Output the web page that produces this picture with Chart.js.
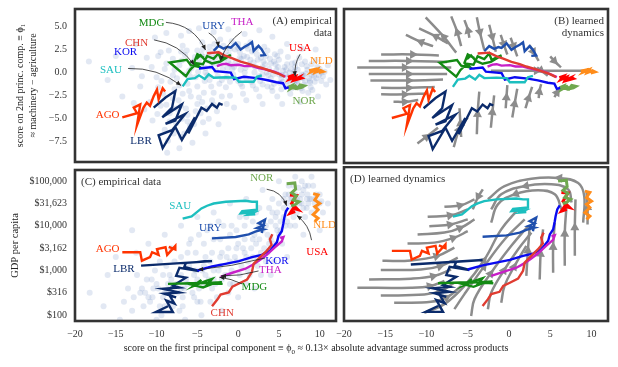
<!DOCTYPE html>
<html>
<head>
<meta charset="utf-8">
<script src="https://cdn.jsdelivr.net/npm/chart.js@4.4.1/dist/chart.umd.min.js"></script>
<style>
  html, body { margin: 0; padding: 0; background: #fff; }
  body { width: 618px; height: 367px; position: relative; overflow: hidden; font-family: 'Liberation Serif', serif; }
  .panel { position: absolute; }
  #xtitle { position: absolute; left: 14px; width: 604px; top: 342px; text-align: center; font-size: 10px; color: #222; }
  #xtitle sub { font-size: 7px; }
</style>
</head>
<body>
<div class="panel" style="left:0;top:0"><canvas id="chartA" width="340" height="166"></canvas></div>
<div class="panel" style="left:330px;top:0"><canvas id="chartB" width="288" height="166"></canvas></div>
<div class="panel" style="left:0;top:166px"><canvas id="chartC" width="340" height="180"></canvas></div>
<div class="panel" style="left:330px;top:166px"><canvas id="chartD" width="288" height="180"></canvas></div>
<div id="xtitle">score on the first principal component ≡ ϕ<sub>0</sub> ≈ 0.13× absolute advantage summed across products</div>
<script>
// axis ticks
const xTicks = [-20, -15, -10, -5, 0, 5, 10];
const pcTicks = [5, 2.5, 0, -2.5, -5, -7.5];
const gdpTicks = [2, 2.5, 3, 3.5, 4, 4.5, 5]; // log10 of GDP per capita
const gdpTickLabels = ['$100', '$316', '$1,000', '$3,162', '$10,000', '$31,623', '$100,000'];

// country trajectories: [phi0, phi1]
const agoPc = [[-14.2,-4.85],[-12.4,-4.4],[-12.8,-3.8],[-12.0,-3.45],[-12.4,-5.7],[-11.6,-3.8],[-11.2,-3.25],[-10.8,-3.6],[-10.35,-2.55],[-9.95,-1.85],[-9.75,-2.9],[-9.25,-1.7],[-8.95,-2.05]];
const lbrPc = [[-10.35,-3.8],[-8.9,-2.7],[-7.7,-2.0],[-8.1,-3.8],[-9.3,-4.85],[-6.9,-3.45],[-7.7,-5.2],[-8.9,-5.55],[-6.5,-4.5],[-8.1,-6.25],[-9.75,-6.8],[-9.25,-8.2],[-7.7,-5.9],[-6.9,-7.3],[-5.3,-4.85],[-6.1,-6.6],[-4.5,-3.8],[-3.85,-4.15],[-3.2,-3.4],[-2.6,-3.8],[-2.3,-3.35],[-1.9,-3.5]];
const mdgPc = [[-4.2,1.6],[-5.0,2.0],[-5.4,1.1],[-4.7,0.6],[-5.8,0.8],[-6.3,1.4],[-8.4,1.1],[-6.4,-0.4],[-5.9,0.3],[-5.1,1.0],[-4.3,0.9],[-3.8,1.8],[-3.0,1.5],[-2.4,2.1],[-2.1,1.4],[-1.5,1.7],[-0.9,1.9],[-2.2,1.2],[-3.2,1.0],[-4.0,1.3],[-4.6,1.9],[-5.1,1.5]];
const chnPc = [[-3.8,2.1],[-2.4,2.2],[-1.5,1.8],[-0.7,1.55],[0.3,1.2],[1.3,0.95],[2.1,0.7],[2.9,0.5],[3.9,0.2],[4.9,-0.1],[5.7,-0.45]];
const sauPc = [[-6.8,-1.5],[-6.2,-0.7],[-5.3,-0.6],[-4.8,-0.3],[-4.1,-0.7],[-3.6,-0.2],[-3.0,-0.55],[-1.5,-0.5],[-0.3,-0.55],[0.1,-1.0],[1.9,-1.0],[2.3,-0.45],[2.9,-0.3]];
const korPc = [[-4.8,0.45],[-3.2,0.6],[-2.8,0.15],[-0.9,0.0],[-0.5,-0.7],[0.7,-0.45],[2.3,-0.6],[3.5,-0.8],[4.7,-1.05],[5.5,-1.15],[5.8,-1.7],[6.2,-1.6]];
const uryPc = [[-3.0,2.35],[-2.4,2.9],[-1.8,2.6],[-1.3,2.8],[-0.9,2.7],[-0.3,3.2],[0.3,2.5],[0.8,2.8],[1.3,3.05],[1.7,3.3],[1.9,2.35],[2.5,2.9],[2.9,2.5],[3.1,2.2],[3.3,1.9],[2.7,1.85]];
const thaPc = [[-2.6,0.7],[-2.0,0.9],[-1.5,0.95],[-0.9,0.8],[0.1,0.85],[0.8,0.7],[1.7,0.7],[2.5,0.5],[3.3,0.35],[4.0,0.2],[4.5,0.07],[5.2,-0.2],[5.8,-0.45]];
const usaPc = [[6.1,-0.5],[6.6,-0.35],[6.3,-0.7],[7.0,-0.45],[6.8,-0.8],[7.4,-0.55],[7.2,-0.75],[7.8,-0.6],[7.5,-0.45]];
const nldPc = [[8.7,0.2],[9.2,0.3],[9.0,0.1],[9.7,0.35],[9.5,0.05],[10.1,0.25],[10.4,0.12],[9.9,0.0]];
const norPc = [[6.1,-1.6],[6.6,-1.4],[6.4,-1.75],[7.0,-1.45],[7.3,-1.7],[7.6,-1.35],[8.1,-1.45],[7.8,-1.6],[7.1,-1.75],[6.5,-1.55]];

// country trajectories: [phi0, log10 GDP per capita]
const agoGdp = [[-14.2,3.41],[-12.0,3.41],[-11.8,3.22],[-10.8,3.30],[-10.55,3.41],[-9.75,3.35],[-9.95,3.48],[-8.9,3.52],[-8.7,3.35],[-7.7,3.55],[-7.7,3.47],[-8.5,3.53]];
const lbrGdp = [[-11.9,3.11],[-3.2,3.21],[-6.4,3.17],[-6.6,3.08],[-4.8,2.99],[-7.2,3.06],[-7.6,2.88],[-6.4,2.84],[-8.0,2.66],[-7.2,2.62],[-9.25,2.59],[-7.2,2.51],[-9.05,2.48],[-7.6,2.40],[-8.4,2.44],[-7.8,2.26],[-8.8,2.33],[-8.0,2.07],[-10.1,2.07],[-8.6,2.2]];
const mdgGdp = [[-8.6,2.70],[-5.0,2.72],[-4.5,2.79],[-5.5,2.65],[-4.0,2.76],[-3.2,2.81],[-3.8,2.68],[-2.0,2.74],[-6.0,2.70],[-4.3,2.62],[-3.0,2.71],[-1.9,2.70]];
const chnGdp = [[-3.2,2.2],[-2.55,2.35],[-2.15,2.46],[-1.15,2.51],[-0.7,2.64],[0.1,2.71],[1.1,2.8],[1.7,2.97],[1.9,3.15],[2.7,3.3],[3.5,3.44],[4.1,3.57],[3.9,3.7],[4.2,3.81]];
const sauGdp = [[-6.8,4.16],[-5.7,4.21],[-4.5,4.39],[-3.8,4.45],[-3.0,4.50],[-1.5,4.54],[0.9,4.56],[1.7,4.54],[2.3,4.54],[2.3,4.36],[0.5,4.33],[0.3,4.28],[1.9,4.30],[1.3,4.25],[2.1,4.26]];
const korGdp = [[-5.0,3.0],[-3.2,3.09],[-1.55,3.15],[0.1,3.21],[1.7,3.30],[2.9,3.35],[3.9,3.44],[4.75,3.63],[4.95,3.77],[5.35,3.88],[5.55,4.06],[5.65,4.17],[5.85,4.32],[6.15,4.41]];
const uryGdp = [[-3.2,3.72],[-0.3,3.75],[1.3,3.81],[2.1,3.87],[3.1,3.92],[2.3,3.95],[3.1,4.01],[2.5,4.06],[3.3,4.14],[2.9,3.84]];
const thaGdp = [[-2.15,2.86],[-0.7,2.95],[0.9,3.04],[1.9,3.14],[2.7,3.24],[3.5,3.35],[4.5,3.52],[5.35,3.65],[5.55,3.75],[5.15,3.73]];
const usaGdp = [[6.35,4.69],[7.15,4.68],[6.55,4.5],[7.35,4.36],[6.75,4.39],[6.35,4.28],[7.0,4.32]];
const nldGdp = [[9.2,4.72],[9.8,4.69],[9.4,4.58],[10.0,4.5],[9.4,4.43],[9.8,4.36],[9.2,4.25],[9.8,4.17],[9.4,4.10]];
const norGdp = [[5.95,4.94],[6.95,4.96],[7.05,4.82],[6.55,4.74],[7.15,4.67],[6.75,4.58],[7.45,4.54],[6.95,4.47],[6.5,4.45]];

// all country-years (background cloud)
const cloudPc = [[-8,1.5],[-7.2,0.8],[-6.5,1.9],[-6,0.2],[-5.5,1.2],[-5,2.4],[-4.6,0.6],[-4.2,1.7],[-3.8,-0.3],[-3.5,2.8],[-3.1,1.1],[-2.7,0.2],[-2.4,2.1],[-2,-0.8],[-1.7,1.5],[-1.3,0.5],[-1,2.6],[-0.6,-0.2],[-0.3,1.2],[0,3.1],[0.3,0.3],[0.7,1.8],[1,-0.6],[1.3,0.9],[1.7,2.3],[2,0],[2.4,1.4],[2.7,-0.9],[3,0.6],[3.4,1.8],[3.7,-0.3],[4,1],[4.4,-1.2],[4.7,0.3],[5,1.4],[5.3,-0.6],[5.7,0.6],[6,-1.4],[6.3,0],[6.6,1],[7,-0.8],[7.3,0.3],[7.7,-1.7],[8,-0.3],[8.4,0.7],[8.8,-1.1],[9.2,0],[9.6,-0.6],[10,0.4],[10.4,-0.4],
  [-9,0.4],[-8.5,2.4],[-7.5,-0.6],[-6.8,2.9],[-6.2,-1.2],[-5.2,-0.5],[-4.4,3.3],[-3.3,-1.5],[-2.2,3.6],[-1.5,-1.6],[-0.8,3.4],[0.5,-1.5],[1.5,3.3],[2.2,-1.8],[3.2,2.8],[4.2,-2],[5.2,2.3],[6.4,-2.3],[7.5,1.6],[8.6,-2.2],[9.5,1.3],[10.8,-1.3],[-4,0],[-1,0.9],[2.8,0.4],[5.8,-0.2],[7.8,0.9],[1.1,1.7],[-2.8,1.6],[-5.7,0.5],[3.6,-1.5],[6.8,-0.3],[0.2,2.2],[-3.6,2.2],[4.5,2.0],
  [5.5,-1.0],[6.5,-0.6],[7.2,-1.2],[8.2,-0.9],[9,-0.3],[9.8,0.2],[7,0.6],[6,0.9],[8.5,0.3],[5,-0.2],[4,-0.6],[3,-0.2],[10.2,-0.9],[7.8,-0.2],[6.2,-0.9],[8.9,-1.6],
  [-7.8,0.3],[-6.9,1.3],[-6.3,2.4],[-5.9,-0.4],[-5.3,1.7],[-4.9,0.1],[-4.5,2.0],[-4.1,-0.9],[-3.7,1.3],[-3.3,0.6],[-2.9,2.4],[-2.5,-0.4],[-2.1,1.0],[-1.8,2.9],[-1.4,-0.5],[-1.1,1.9],[-0.7,0.4],[-0.4,2.5],[0,-0.9],[0.4,1.5],[0.8,0.0],[1.2,2.6],[1.6,-1.0],[1.9,1.1],[2.3,2.0],[2.6,-0.4],[3.1,1.2],[3.5,0.0],[3.9,1.5],[4.3,-0.2],[4.6,0.9],[5.1,-1.1],[5.5,0.2],[6.1,-0.5],[6.5,0.4],[6.9,-1.3],[7.4,-0.5],[8.1,-1.3],[8.7,-0.6],[9.4,-1.0],[9.9,-0.3],[10.6,0.1],
  [-5.6,0.9],[-4.8,1.4],[-4.0,0.5],[-3.2,1.9],[-2.6,0.9],[-1.9,0.4],[-1.2,1.3],[-0.5,0.6],[0.2,1.6],[0.9,0.5],[1.5,1.4],[2.1,0.6],[2.8,1.6],[3.3,0.9],[3.8,0.4],[4.4,1.2],[4.9,0.6],[5.4,-0.3],[5.9,0.3],[6.4,-0.8],[6.9,0.1],[7.3,-0.9],[7.9,-0.6],[8.3,-0.1],[8.8,-0.9],[9.3,-0.4],[9.7,0.6],[10.2,0.0],
  [-3.5,-0.8],[-2.3,-1.2],[-1.0,-1.0],[0.3,-1.2],[1.8,-1.4],[3.0,-1.3],[4.1,-1.6],[5.3,-1.8],[6.6,-1.7],[7.9,-2.0],[9.1,-1.9],[-4.3,2.6],[-2.9,3.1],[-1.5,2.3],[0,2.7],[1.0,2.9],[2.2,2.6],[3.6,2.4],[4.8,1.8],[6.1,1.7],[7.0,1.1],[8.2,1.2],[9.0,0.9],[-6.5,-0.2],[-7.2,-1.4],[-8.0,-0.3],[-7.0,2.3],[-8.8,1.0],[-9.8,1.8],[-5.0,-1.5],[-6.0,-2.0],[-3.0,-3.5],[-4.8,-2.7],[-7.6,-3.9],[-8.4,-5.3],[-6.2,-5.3],[-4.3,-5.4],[-7.0,-7.0],
  [-8.3,-1.0],[-9.4,-0.9],[-10.6,0.6],[-11.8,-0.4],[-7.3,-3.0],[-6.4,-3.9],[-5.2,-4.2],[-4.4,-3.2],[-3.8,-3.9],[-9.9,-4.5],[-8.8,-3.5],[-7.9,-6.6],[-6.9,-5.0],[-5.9,-5.8],[-3.0,-2.2],[-1.0,-2.5],[0.6,-2.3],[2.6,-2.6],[4.8,-2.6],
  [-18.3,1.2],[-16,-0.8],[-15,1.8],[-14.2,-2.6],[-13,0.5],[-12.5,3.1],[-12,-1.5],[-11.2,1.6],[-10.8,-3.2],[-10.2,3.8],[-10,-0.5],[-9.5,2.2],[-9.2,-2.3],[-8.8,4.3],[-7.8,-1.8],[-7,4.0],[-6,4.5],[-4.8,4.8],[-3,4.4],[-1.2,4.7],[0.8,4.2],[2.6,4.6],[4.2,3.9],[6,3.1],[7.8,2.6],[9.5,2.5],[11,0.8],[11.3,-0.8],[9.8,-2.6],[7.6,-3.2],[5.4,-3.4],[3,-3.4],[1,-3],[-0.5,-3.8],
  [-11.5,-4],[-10.5,-5.2],[-9.5,-3.6],[-9,-6.2],[-8.4,-4.4],[-8,-2.8],[-7.6,-5.5],[-7,-3.6],[-6.6,-6.6],[-6.2,-4.6],[-5.8,-2.6],[-5.4,-5.6],[-5,-3.4],[-4.6,-4.4],[-4.2,-2.2],[-3.6,-5],[-3.2,-3],[-2.6,-4.2],[-2,-2.6],[-1.4,-3.4],[-8.6,-7.4],[-7.2,-8.2],[-5.6,-7.6],[-4,-6.6],[-9.8,-1.6],[-12.8,-3.3],[-2.4,-5.6],[-6.8,-2.3],[-8.7,-8.7]];

const cloudGdp = [[-14,2.3],[-13.5,2.6],[-13,2.1],[-12,2.5],[-11.6,2.2],[-11.2,2.8],[-12.4,2.9],[-10.5,2.4],[-10,2.7],[-9.6,2.2],[-10.2,3.0],[-9.2,2.9],[-8.8,2.5],[-8.4,2.9],[-8,2.2],[-7.6,2.7],[-7.8,3.2],[-8.2,3.5],
  [-6.8,2.4],[-6.4,2.8],[-6,3.1],[-5.6,2.5],[-6.2,3.4],[-5.8,3.7],[-5.4,2.9],[-4.8,2.6],[-4.4,3.0],[-4,3.3],[-3.6,2.8],[-4.2,3.6],[-3.8,3.9],[-3.4,3.2],[-4.6,2.3],
  [-2.8,2.7],[-2.4,3.0],[-2,3.4],[-1.6,2.9],[-2.2,3.7],[-1.8,4.0],[-1.4,3.3],[-2.6,2.4],[-0.8,3.0],[-0.4,3.3],[0,3.6],[0.4,3.1],[-0.2,3.9],[0.2,4.2],[0.6,3.5],[-0.6,2.7],
  [1.2,3.2],[1.6,3.5],[2,3.8],[2.4,3.3],[1.8,4.1],[2.2,4.3],[2.6,3.7],[1.4,2.9],[3.2,3.5],[3.6,3.8],[4,4.1],[4.4,3.6],[3.8,4.4],[4.2,4.6],[4.6,4.0],[3.4,3.2],
  [5.2,3.9],[5.6,4.2],[6,4.5],[6.4,4.0],[5.8,4.7],[6.2,4.9],[6.6,4.4],[5.4,3.6],[7.2,4.3],[7.6,4.6],[8,4.8],[8.4,4.4],[7.8,5.0],[8.2,4.2],[8.8,4.6],[9.2,4.9],[9.6,4.4],[10,4.7],[10.4,4.3],[7,4.0],
  [7.5,4.5],[8.5,4.7],[9,4.3],[7,4.7],[8,4.4],[9.5,4.6],[6.8,4.2],[8.6,4.9],[7.4,4.85],[10.2,4.55],[6.4,4.6],[5.6,4.4],[4.8,4.3],[5,3.8],[3.8,3.6],[2.8,3.4],[1,3.3],[-1,3.2],[-3,3.0],[-5,2.8],[-7,2.6],[-9,2.5],[-11,2.4],
  [-12.8,2.4],[-11.8,2.6],[-10.8,2.3],[-9.8,2.6],[-8.6,2.7],[-7.4,2.5],[-6.6,2.6],[-5.2,2.7],[-4.0,2.9],[-3.2,2.6],[-2.2,3.1],[-1.2,2.9],[-0.2,3.2],[0.8,3.4],[1.8,3.3],[2.2,3.6],[3.0,3.9],[3.0,3.3],[4.0,3.7],[4.6,4.2],[5.2,4.1],[5.8,4.0],[6.6,4.6],[7.2,4.6],[7.8,4.5],[8.4,4.6],[9.0,4.6],[9.6,4.7],[8.2,4.9],[6.8,4.9],[-6.0,3.6],[-4.8,3.8],[-3.4,4.0],[-2.4,4.1],[-0.8,4.0],[0.8,4.0],[-8.8,3.1],[-10.6,2.8],[-5.0,2.3],[-3.4,2.3],[-1.2,2.5],[1.0,2.7],[2.8,2.9],[4.4,3.2],[-7.2,2.1],[-9.4,2.0],
  [-11.4,2.5],[-10.4,2.6],[-9.2,2.4],[-8.2,2.8],[-7.0,2.9],[-6.2,2.7],[-5.2,3.0],[-4.2,3.1],[-3.2,3.4],[-2.2,3.3],[-1.2,3.5],[-0.2,3.5],[0.8,3.7],[1.8,3.7],[2.6,4.0],[3.4,4.0],[4.2,4.3],[5.0,4.5],[5.6,4.6],[6.2,4.7],[7.0,4.4],[7.8,4.7],[8.6,4.5],[9.4,4.5],[10.0,4.5],[6.0,4.1],[4.8,3.9],[3.6,3.4],[2.4,3.1],[1.2,3.0],[0.2,2.9],[-1.0,2.7],[-2.0,2.8],[-3.0,2.8],[-4.2,2.7],[-5.4,2.4],[-6.8,2.2],[-8.4,2.3],[-9.0,2.2],[-5.2,3.4],[-3.0,3.7],[-1.0,3.8],[1.0,4.2],[2.6,4.4],[-7.0,3.3],[-9.6,3.2],
  [-18.2,2.5],[-16,2.9],[-15,3.3],[-14.5,1.9],[-12.5,3.4],[-11,3.6],[-10,1.9],[-9,3.8],[-7.5,1.8],[-7,4.0],[-6.5,1.9],[-5,4.2],[-3,4.3],[-1,4.5],[1,4.6],[3,4.8],[5,5.0],[7,5.1],[9,5.1],[-4.5,2.0],[-2,2.1],[0,2.4],[2,2.6],[4,2.9],[6,3.3],[8,3.8],[10,3.9],[11,4.5],[-16.5,2.2],[-13,3.9]];

// learned dynamics streamlines (direction = point order)
const streamsPc = [
  [[-15.5,2.0],[-11.5,2.0],[-8.5,1.9]],
  [[-17.0,1.3],[-12.0,1.3],[-7.5,1.2]],
  [[-18.4,0.6],[-12.5,0.6],[-7.0,0.6]],
  [[-17.0,-0.1],[-12.0,-0.1],[-7.5,-0.1]],
  [[-16.8,-0.8],[-12.0,-0.8],[-8.0,-0.7]],
  [[-15.5,-1.6],[-12.0,-1.6],[-9.0,-1.5]],
  [[-15.5,-2.3],[-12.5,-2.3],[-10.0,-2.2]],
  [[-14.0,-3.1],[-12.5,-3.1],[-11.0,-2.9]],
  [[-9.2,2.9],[-10.8,3.4],[-12.5,4.1]],
  [[-7.4,3.2],[-9.0,4.0],[-10.9,4.8]],
  [[-6.4,2.2],[-8.0,4.0],[-10.1,6.0]],
  [[-5.8,2.9],[-6.3,4.5],[-7.0,6.1]],
  [[-4.8,3.8],[-5.0,4.7],[-5.4,5.7]],
  [[-3.9,6.0],[-3.5,4.3],[-3.0,2.5]],
  [[-2.4,5.2],[-2.0,3.8],[-1.6,2.3]],
  [[-1.0,4.1],[-0.6,3.0],[-0.2,2.0]],
  [[0.2,3.8],[0.6,2.8],[1.0,1.8]],
  [[2.5,3.0],[3.0,2.2],[3.6,1.3]],
  [[5.0,1.8],[5.6,1.2],[6.3,0.6]],
  [[3.4,0.6],[4.0,0.2],[4.7,-0.3]],
  [[-3.9,-6.6],[-3.8,-4.3],[-3.6,-2.0]],
  [[-2.2,-5.9],[-2.0,-4.1],[-1.8,-2.4]],
  [[-0.4,-3.8],[-0.3,-2.5],[-0.2,-1.3]],
  [[0.4,-4.8],[0.7,-3.2],[1.0,-1.7]],
  [[2.0,-3.8],[2.4,-2.6],[2.8,-1.5]],
  [[3.6,-2.7],[3.7,-1.9],[3.9,-1.2]],
  [[5.5,-2.6],[5.9,-2.0],[6.3,-1.5]],
  [[-11.1,-7.6],[-9.9,-6.8],[-8.6,-5.9]],
  [[-5.8,-6.9],[-5.9,-5.3],[-6.0,-3.8]],
  [[-6.7,-8.0],[-6.0,-6.0],[-5.0,-4.8]],
  [[-2.2,0.25],[3.5,0.25],[9.1,0.25]]
];
const streamsGdp = [
  [[-18.38,2.60],[-11.89,2.60],[-9.46,2.64],[-7.83,2.75]],
  [[-15.54,2.43],[-10.27,2.45],[-8.24,2.53],[-6.62,2.71]],
  [[-13.92,2.27],[-9.46,2.29],[-7.43,2.40],[-5.81,2.64]],
  [[-16.96,2.78],[-11.89,2.80],[-9.05,2.86],[-7.02,3.00]],
  [[-15.54,2.99],[-10.67,3.00],[-8.24,3.08],[-6.21,3.26]],
  [[-15.34,3.19],[-11.89,3.20],[-8.65,3.30],[-6.62,3.48]],
  [[-12.30,3.57],[-9.05,3.59],[-6.62,3.70],[-5.0,3.84]],
  [[-11.08,3.77],[-7.83,3.81],[-5.81,3.92],[-4.18,4.10]],
  [[-9.66,3.95],[-7.02,3.99],[-5.0,4.10]],
  [[-9.86,4.16],[-7.02,4.19],[-5.0,4.32]],
  [[-7.83,4.38],[-5.81,4.41],[-4.18,4.54]],
  [[-10.27,2.05],[-7.83,2.24],[-5.40,2.64],[-2.97,3.22],[-0.94,3.88],[1.09,4.32]],
  [[-6.62,2.13],[-5.40,2.46],[-2.97,3.08],[-0.54,3.66],[1.90,4.10]],
  [[-4.59,1.98],[-4.18,2.35],[-2.16,2.93],[0.28,3.52],[2.30,3.95]],
  [[-2.56,2.13],[-2.16,2.49],[-0.54,3.0],[1.09,3.44],[2.71,3.81]],
  [[-0.94,2.27],[-0.54,2.64],[0.68,3.08],[2.10,3.52]],
  [[2.10,2.86],[2.30,3.44],[2.51,3.95]],
  [[3.72,2.78],[3.84,3.37],[4.13,3.88]],
  [[5.35,2.93],[5.35,3.52],[5.55,4.03]],
  [[6.76,3.08],[6.76,3.81],[6.97,4.39]],
  [[7.98,3.30],[7.98,3.95],[8.06,4.54]],
  [[9.52,3.99],[9.52,4.39],[9.40,4.69]],
  [[8.99,4.03],[9.12,4.61],[8.39,4.90],[5.95,5.01],[2.71,4.99],[-0.54,4.83],[-2.56,4.54]],
  [[7.58,4.47],[7.17,4.76],[5.14,4.87],[1.90,4.83],[-0.94,4.65],[-2.16,4.32]],
  [[6.36,4.32],[5.55,4.65],[3.52,4.74],[0.68,4.65],[-1.35,4.43],[-2.16,4.03]],
  [[-3.17,4.76],[-3.78,4.58],[-4.39,4.32]]
];

// text labels [name, x, y] and annotation arrows [x0, y0, x1, y1, bend]
const labelsPc = [['MDG',-10.6,5.4],['CHN',-12.45,3.15],['KOR',-13.8,2.2],['SAU',-15.6,0.25],['AGO',-16.0,-4.65],['LBR',-11.9,-7.45],['URY',-3.0,5.0],['THA',0.5,5.5],['USA',7.6,2.7],['NLD',10.2,1.2],['NOR',8.1,-3.1]];
const labelsGdp = [['NOR',2.9,5.07],['SAU',-7.1,4.45],['URY',-3.4,3.96],['AGO',-16.0,3.49],['LBR',-14.0,3.03],['NLD',10.6,4.01],['USA',9.7,3.42],['KOR',4.75,3.22],['THA',3.95,3.02],['MDG',2.0,2.63],['CHN',-1.95,2.05]];
const arrowsPc = [[-8.85,5.45,-4.0,2.45,-14],[-10.3,3.55,-5.4,0.85,-10],[-13.5,0.45,-7.0,-1.4,-10],[-3.6,4.3,-2.4,2.8,-4],[0.45,4.45,-2.15,1.3,6],[7.6,2.0,7.0,-0.4,4]];
const arrowsGdp = [[3.5,4.82,5.95,4.45,-8],[9.0,3.68,7.2,4.23,6],[3.3,3.28,-4.9,3.02,-3],[2.5,2.99,-2.1,2.88,-3],[0.5,2.7,-2.3,2.85,2]];

const countryColors = {AGO:'#ff3300', LBR:'#0b2b6b', MDG:'#138a13', CHN:'#e03c31', SAU:'#1cbfbf', KOR:'#0a0af0', URY:'#1f4fad', THA:'#c71fc7', USA:'#ff0000', NLD:'#ff8c1a', NOR:'#6fa84f'};
const thickCodes = ['USA', 'NLD', 'NOR'];
const trajPc = [['SAU',sauPc],['CHN',chnPc],['URY',uryPc],['THA',thaPc],['KOR',korPc],['MDG',mdgPc],['AGO',agoPc],['LBR',lbrPc],['NOR',norPc],['USA',usaPc],['NLD',nldPc]];
const trajGdp = [['SAU',sauGdp],['URY',uryGdp],['CHN',chnGdp],['THA',thaGdp],['KOR',korGdp],['MDG',mdgGdp],['AGO',agoGdp],['LBR',lbrGdp],['NOR',norGdp],['USA',usaGdp],['NLD',nldGdp]];

const serif = '"Liberation Serif", "Times New Roman", serif';
const toXY = arr => arr.map(p => ({x: p[0], y: p[1]}));
const minus = v => String(v).replace('-', '\u2212');

function cloudSet(points) {
    return {data: toXY(points), showLine: false, pointRadius: 3, pointBorderWidth: 0,
            pointBackgroundColor: 'rgba(72,112,178,0.16)', order: 3};
}
function streamSet(line) {
    return {data: toXY(line), showLine: true, borderColor: '#8c8c8c', borderWidth: 2.5,
            pointRadius: 0, tension: 0.4, order: 2, stream: true};
}
function trajSet(code, line) {
    return {data: toXY(line), showLine: true, borderColor: countryColors[code],
            borderWidth: thickCodes.includes(code) ? 3 : 2.4, pointRadius: 0, tension: 0, order: 1};
}

function drawHead(ctx, x, y, ang, len, half, color) {
    ctx.save();
    ctx.translate(x, y);
    ctx.rotate(ang);
    ctx.beginPath();
    ctx.moveTo(0, 0);
    ctx.lineTo(-len, half);
    ctx.lineTo(-len, -half);
    ctx.closePath();
    ctx.fillStyle = color;
    ctx.fill();
    ctx.restore();
}

// streamline arrowheads, labels, annotation arrows, headings and frame
const decorPlugin = {
    id: 'decor',
    afterDatasetDraw(chart, args) {
        const ds = chart.data.datasets[args.index];
        if (!ds.stream) return;
        const pts = args.meta.data;
        const i = Math.floor(pts.length / 2);
        const a = pts[Math.max(i - 1, 0)], b = pts[Math.min(i + 1, pts.length - 1)];
        const ang = Math.atan2(b.y - a.y, b.x - a.x);
        const ctx = chart.ctx, area = chart.chartArea;
        ctx.save();
        ctx.beginPath();
        ctx.rect(area.left, area.top, area.right - area.left, area.bottom - area.top);
        ctx.clip();
        drawHead(ctx, pts[i].x + Math.cos(ang) * 4, pts[i].y + Math.sin(ang) * 4, ang, 8, 4.5, '#8c8c8c');
        ctx.restore();
    },
    afterDraw(chart, args, opts) {
        const ctx = chart.ctx, area = chart.chartArea;
        const sx = chart.scales.x, sy = chart.scales.y;
        ctx.save();
        // annotation arrows
        ctx.strokeStyle = '#222';
        ctx.lineWidth = 0.8;
        (opts.arrows || []).forEach(a => {
            const x0 = sx.getPixelForValue(a[0]), y0 = sy.getPixelForValue(a[1]);
            const x1 = sx.getPixelForValue(a[2]), y1 = sy.getPixelForValue(a[3]);
            const dx = x1 - x0, dy = y1 - y0, len = Math.hypot(dx, dy);
            const cx = (x0 + x1) / 2 - dy / len * a[4], cy = (y0 + y1) / 2 + dx / len * a[4];
            ctx.beginPath();
            ctx.moveTo(x0, y0);
            ctx.quadraticCurveTo(cx, cy, x1, y1);
            ctx.stroke();
            drawHead(ctx, x1, y1, Math.atan2(y1 - cy, x1 - cx), 5, 2.2, '#222');
        });
        // country labels
        ctx.font = '11px ' + serif;
        ctx.textAlign = 'center';
        ctx.textBaseline = 'middle';
        (opts.labels || []).forEach(l => {
            ctx.fillStyle = countryColors[l[0]];
            ctx.fillText(l[0], sx.getPixelForValue(l[1]), sy.getPixelForValue(l[2]));
        });
        // panel heading
        ctx.fillStyle = '#333';
        ctx.font = '11px ' + serif;
        if (opts.headAlign === 'right') {
            ctx.textAlign = 'right';
            opts.heading.forEach((t, i) => ctx.fillText(t, area.right - 4, area.top + 12 + i * 12));
        } else {
            ctx.textAlign = 'left';
            opts.heading.forEach((t, i) => ctx.fillText(t, area.left + 6, area.top + 12 + i * 12));
        }
        // frame
        ctx.strokeStyle = '#333';
        ctx.lineWidth = 2.6;
        ctx.strokeRect(area.left, area.top, area.right - area.left, area.bottom - area.top);
        ctx.restore();
    }
};

function noPad(s) {
    s.paddingTop = 0; s.paddingBottom = 0; s.paddingLeft = 0; s.paddingRight = 0;
}

function xScale(show) {
    return {
        type: 'linear', min: -20, max: 12, display: show,
        afterFit: s => { noPad(s); if (show) s.height = 25; },
        afterBuildTicks: s => { s.ticks = xTicks.map(v => ({value: v})); },
        ticks: {callback: v => minus(v), font: {family: serif, size: 10}, color: '#333', padding: 7, autoSkip: false, maxRotation: 0},
        grid: {display: false, drawTicks: false},
        border: {display: false}
    };
}

function makeChart(id, datasets, scales, padding, decor) {
    return new Chart(document.getElementById(id).getContext('2d'), {
        type: 'scatter',
        data: {datasets: datasets},
        options: {
            responsive: false,
            animation: false,
            events: [],
            layout: {padding: padding},
            plugins: {legend: {display: false}, tooltip: {enabled: false}, decor: decor},
            scales: scales
        },
        plugins: [decorPlugin]
    });
}

const pcY = show => ({
    type: 'linear', min: -9.7, max: 6.9, display: show,
    afterFit: s => { noPad(s); if (show) s.width = 75; },
    afterBuildTicks: s => { s.ticks = pcTicks.map(v => ({value: v})); },
    ticks: {callback: v => minus(v.toFixed(1)), font: {family: serif, size: 10}, color: '#333', padding: 8, autoSkip: false},
    grid: {display: false, drawTicks: false},
    border: {display: false},
    title: {display: true, text: ['score on 2nd princ. comp. \u2261 \u03d5\u2081', '\u2248 machinery \u2212 agriculture'],
            font: {family: serif, size: 10, lineHeight: 1.3}, color: '#222', padding: {top: 14, bottom: 0}}
});
const gdpY = show => ({
    type: 'linear', min: 1.87, max: 5.25, display: show,
    afterFit: s => { noPad(s); if (show) s.width = 75; },
    afterBuildTicks: s => { s.ticks = gdpTicks.map(v => ({value: v})); },
    ticks: {callback: (v, i) => gdpTickLabels[i], font: {family: serif, size: 10}, color: '#333', padding: 8, autoSkip: false},
    grid: {display: false, drawTicks: false},
    border: {display: false},
    title: {display: true, text: 'GDP per capita', font: {family: serif, size: 10.5}, color: '#222', padding: {top: 9, bottom: 0}}
});

const setsA = [cloudSet(cloudPc)].concat(trajPc.map(t => trajSet(t[0], t[1])));
const setsB = streamsPc.map(streamSet).concat(trajPc.map(t => trajSet(t[0], t[1])));
const setsC = [cloudSet(cloudGdp)].concat(trajGdp.map(t => trajSet(t[0], t[1])));
const setsD = streamsGdp.map(streamSet).concat(trajGdp.map(t => trajSet(t[0], t[1])));

makeChart('chartA', setsA, {x: xScale(false), y: pcY(true)}, {top: 9, right: 2, bottom: 3, left: 0},
    {labels: labelsPc, arrows: arrowsPc, heading: ['(A) empirical', 'data'], headAlign: 'right'});
makeChart('chartB', setsB, {x: xScale(false), y: pcY(false)}, {top: 9, right: 10, bottom: 3, left: 14},
    {labels: [], arrows: [], heading: ['(B) learned', 'dynamics'], headAlign: 'right'});
makeChart('chartC', setsC, {x: xScale(true), y: gdpY(true)}, {top: 1, right: 2, bottom: 0, left: 0},
    {labels: labelsGdp, arrows: arrowsGdp, heading: ['(C) empirical data'], headAlign: 'left'});
makeChart('chartD', setsD, {x: xScale(true), y: gdpY(false)}, {top: 1, right: 10, bottom: 0, left: 14},
    {labels: [], arrows: [], heading: ['(D) learned dynamics'], headAlign: 'left'});
</script>
</body>
</html>
